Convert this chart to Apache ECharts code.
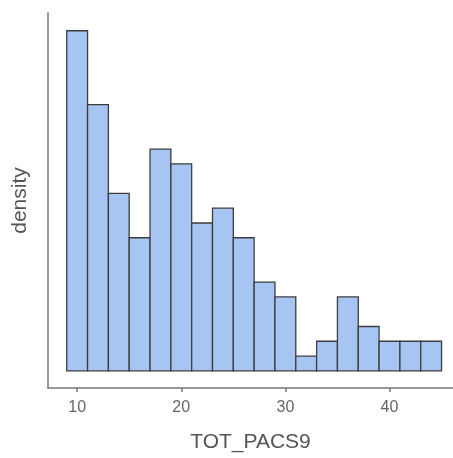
<!DOCTYPE html>
<html>
<head>
<meta charset="utf-8">
<script src="https://cdn.jsdelivr.net/npm/echarts@6/dist/echarts.min.js"></script>
<style>
html,body{margin:0;padding:0;background:#fff;}
#chart{width:453px;height:458px;}
</style>
</head>
<body>
<div id="chart"></div>
<script>
// bin edges (width 2) and counts per bin
var binStart = [9, 11, 13, 15, 17, 19, 21, 23, 25, 27, 29, 31, 33, 35, 37, 39, 41, 43];
var binEnd   = [11, 13, 15, 17, 19, 21, 23, 25, 27, 29, 31, 33, 35, 37, 39, 41, 43, 45];
var counts   = [23, 18, 12, 9, 15, 14, 10, 11, 9, 6, 5, 1, 2, 5, 3, 2, 2, 2];
var xTicks   = [10, 20, 30, 40];

// density = count / (n * binwidth)
var total = 0;
for (var i = 0; i < counts.length; i++) { total += counts[i]; }
var data = [];
for (var i = 0; i < counts.length; i++) {
	var w = binEnd[i] - binStart[i];
	data.push([binStart[i], binEnd[i], counts[i] / (total * w)]);
}
var unit = 1 / (total * 2);

var myChart = echarts.init(document.getElementById('chart'));
var option = {
	animation: false,
	grid: { left: 48, right: 0, top: 13, bottom: 65 },
	xAxis: {
		type: 'value',
		min: 7.2,
		max: 46.1,
		name: 'TOT_PACS9',
		nameLocation: 'middle',
		nameGap: 44,
		nameTextStyle: { fontFamily: 'Liberation Sans', fontSize: 21, color: '#555' },
		axisLine: { show: true, onZero: false, lineStyle: { color: '#777', width: 1.5 } },
		axisTick: { show: true, length: 4, customValues: xTicks, lineStyle: { color: '#777', width: 1.5 } },
		axisLabel: { customValues: xTicks, margin: 12, fontFamily: 'Liberation Sans', fontSize: 16, color: '#666' },
		splitLine: { show: false }
	},
	yAxis: {
		type: 'value',
		min: -1.16 * unit,
		max: 24.2 * unit,
		name: 'density',
		nameLocation: 'middle',
		nameGap: 17,
		nameTextStyle: { fontFamily: 'Liberation Sans', fontSize: 21, color: '#555' },
		axisLine: { show: true, lineStyle: { color: '#777', width: 1.5 } },
		axisTick: { show: false },
		axisLabel: { show: false },
		splitLine: { show: false }
	},
	series: [{
		type: 'custom',
		data: data,
		encode: { x: [0, 1], y: 2 },
		renderItem: function (params, api) {
			var p0 = api.coord([api.value(0), 0]);
			var p1 = api.coord([api.value(1), api.value(2)]);
			return {
				type: 'rect',
				shape: { x: p0[0], y: p1[1], width: p1[0] - p0[0], height: p0[1] - p1[1] },
				style: { fill: '#a7c5f2', stroke: '#3d3d3d', lineWidth: 1.3 }
			};
		}
	}]
};
myChart.setOption(option);
</script>
</body>
</html>
